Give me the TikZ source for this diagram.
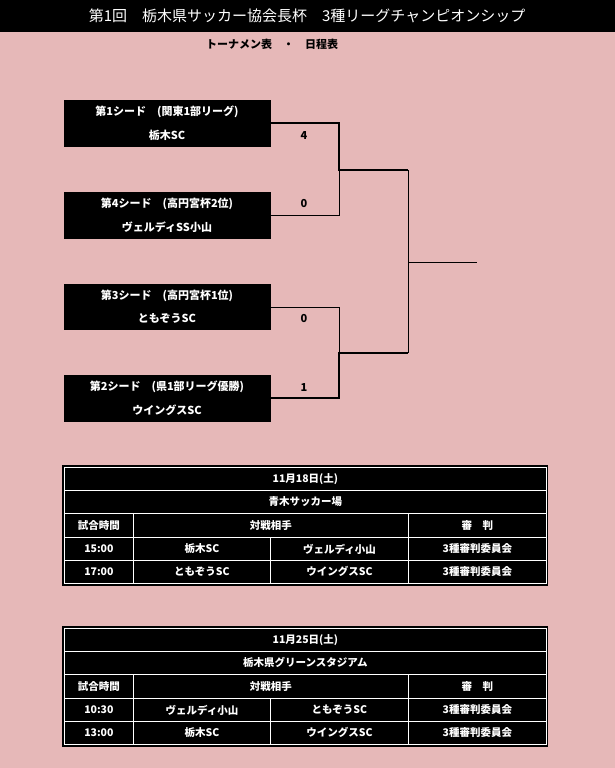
\documentclass[tikz,border=0pt]{standalone}
\usepackage{fontspec}
\setmainfont{Noto Sans CJK JP}
\definecolor{bg}{HTML}{E6B8B8}
\begin{document}
\begin{tikzpicture}[x=1pt,y=-1pt,
  teambox/.style={fill=black,draw=black,text=white,inner sep=0,align=center,font=\fontsize{11}{20}\selectfont\bfseries},
  cell/.style={fill=black,draw=white,line width=0.8pt,text=white,font=\fontsize{10.5}{12}\selectfont\bfseries},
  score/.style={font=\fontsize{11}{12}\selectfont\bfseries},
  thick line/.style={line width=2pt},
  thin line/.style={line width=0.7pt}]
\fill[bg] (0,0) rectangle (615,768);
\useasboundingbox (0,0) rectangle (615,768);
\fill[black] (0,0) rectangle (615,32);
\node[text=white,font=\fontsize{15}{16}\selectfont] (title) at (307,16) {第1回　栃木県サッカー協会長杯　3種リーグチャンピオンシップ};
\node[font=\fontsize{11}{12}\selectfont\bfseries] (sub) at (272,44) {トーナメン表　・　日程表};
% team boxes
\foreach \n/\ya/\yb/\la/\lb in {t1/100/147/{第1シード　(関東1部リーグ)}/{栃木SC},
  t2/192/239/{第4シード　(高円宮杯2位)}/{ヴェルディSS小山},
  t3/284/330/{第3シード　(高円宮杯1位)}/{ともぞうSC},
  t4/375/422/{第2シード　(県1部リーグ優勝)}/{ウイングスSC}}{
  \fill[black] (64,\ya) rectangle (271,\yb);
  \node[text=white,font=\fontsize{11}{12}\selectfont\bfseries] (\n a) at (167,{\ya+12}) {\la};
  \node[text=white,font=\fontsize{11}{12}\selectfont\bfseries] (\n b) at (167,{\yb-12}) {\lb};
}
\coordinate (e1) at (271,123); \coordinate (e2) at (271,215);
\coordinate (e3) at (271,307); \coordinate (e4) at (271,398);
\coordinate (s1) at (339,170); \coordinate (s2) at (339,353);
\coordinate (f) at (408,262); \coordinate (w) at (477,262);
\draw[thick line] (e1) -| (s1) -- (408,170);
\draw[thin line] (e2) -| (s1);
\draw[thin line] (e3) -| (s2);
\draw[thick line] (e4) -| (s2) -- (408,353);
\draw[thin line] (408,170) -- (408,353);
\draw[thin line] (f) -- (w);
\node[score] (sc1) at (304,136) {4};
\node[score] (sc2) at (304,204) {0};
\node[score] (sc3) at (304,319) {0};
\node[score] (sc4) at (304,388) {1};
% tables
\foreach \y/\d/\p/\ta/\tb/\tc/\td/\te/\tf in {467/{11月18日(土)}/{青木サッカー場}/15:00/栃木SC/ヴェルディ小山/17:00/ともぞうSC/ウイングスSC,
  628/{11月25日(土)}/{栃木県グリーンスタジアム}/10:30/ヴェルディ小山/ともぞうSC/13:00/栃木SC/ウイングスSC}{
  \fill[black] (62,{\y-2}) rectangle (548,{\y+119});
  \node[cell,minimum width=482,minimum height=23,anchor=north west] at (64,\y) {\d};
  \node[cell,minimum width=482,minimum height=23,anchor=north west] at (64,{\y+23}) {\p};
  \node[cell,minimum width=69,minimum height=24,anchor=north west] at (64,{\y+46}) {試合時間};
  \node[cell,minimum width=275,minimum height=24,anchor=north west] at (133,{\y+46}) {対戦相手};
  \node[cell,minimum width=138,minimum height=24,anchor=north west] at (408,{\y+46}) {審　判};
  \node[cell,minimum width=69,minimum height=23,anchor=north west] at (64,{\y+70}) {\ta};
  \node[cell,minimum width=137,minimum height=23,anchor=north west] at (133,{\y+70}) {\tb};
  \node[cell,minimum width=138,minimum height=23,anchor=north west] at (270,{\y+70}) {\tc};
  \node[cell,minimum width=138,minimum height=23,anchor=north west] at (408,{\y+70}) {3種審判委員会};
  \node[cell,minimum width=69,minimum height=23,anchor=north west] at (64,{\y+93}) {\td};
  \node[cell,minimum width=137,minimum height=23,anchor=north west] at (133,{\y+93}) {\te};
  \node[cell,minimum width=138,minimum height=23,anchor=north west] at (270,{\y+93}) {\tf};
  \node[cell,minimum width=138,minimum height=23,anchor=north west] at (408,{\y+93}) {3種審判委員会};
}
\end{tikzpicture}
\end{document}
